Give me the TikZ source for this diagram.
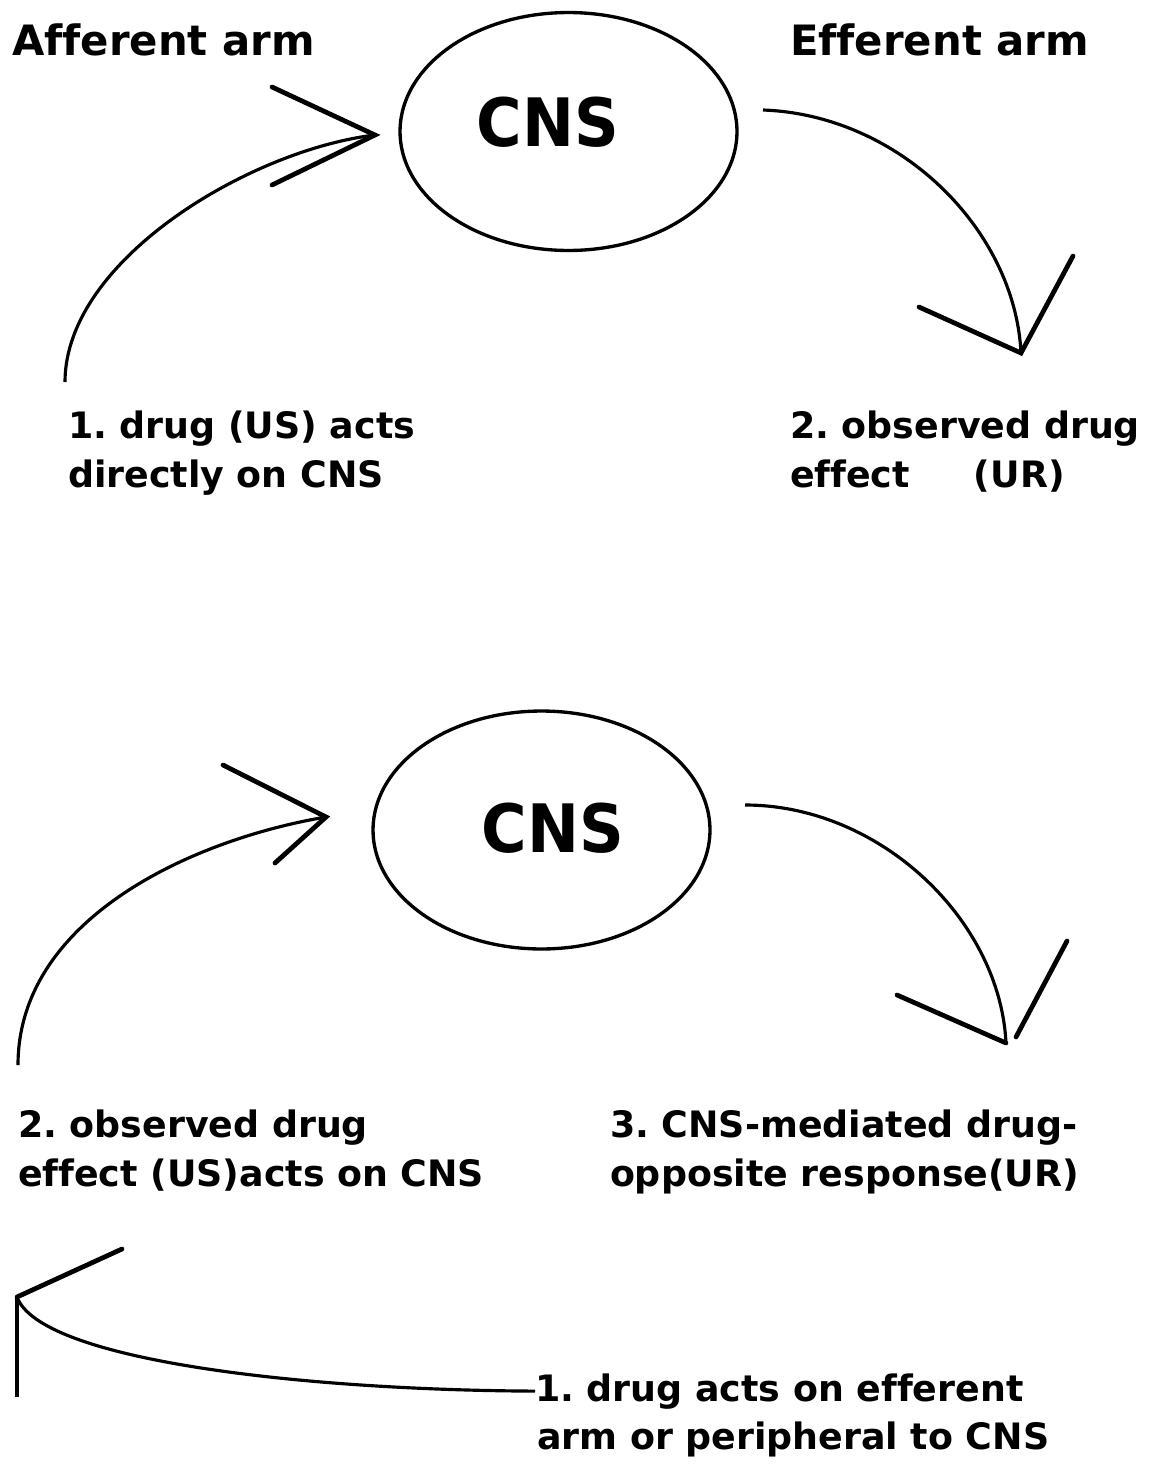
\documentclass[tikz,border=0pt]{standalone}
\usepackage{fontspec}
\setmainfont{DejaVu Sans}[Ligatures={NoCommon}]
\usetikzlibrary{shapes.geometric}
\begin{document}
\frenchspacing
\begin{tikzpicture}[x=0.02cm,y=-0.02cm,
  every node/.style={inner sep=0pt, outer sep=0pt},
  lbl/.style={anchor=base west, font=\fontsize{20.7}{25}\selectfont\bfseries},
  hdr/.style={anchor=base west, font=\fontsize{23.8}{28}\selectfont\bfseries},
  cnsbox/.style={draw, ellipse, line width=1.9pt, minimum width=6.74cm, minimum height=4.76cm},
  cnslbl/.style={font=\fontsize{38}{40}\selectfont\bfseries},
  arc/.style={line width=1.8pt},
  barb/.style={line width=2.7pt, line cap=round},
]
\useasboundingbox (0,0) rectangle (1151,1464);

% ---------- top diagram ----------
\node[hdr] (aff) at (12,55) {Afferent arm};
\node[hdr] (eff) at (790,55) {Efferent arm};
\node[cnsbox] (cns1) at (568.5,131.5) {};
\node[cnslbl] (cnst1) at (548,122) {\scalebox{0.93}[1]{CNS}};

\coordinate (a1s) at (65,382);
\coordinate (a1t) at (375,135);
\coordinate (a1u) at (272,87);
\coordinate (a1l) at (272,185);
\draw[arc] (a1s) .. controls (65,260) and (250,150) .. (a1t);
\draw[barb] (a1u) -- (a1t) -- (a1l);

\coordinate (e1s) at (763,110);
\coordinate (e1t) at (1021,353);
\coordinate (e1l) at (919,307);
\coordinate (e1r) at (1073,256);
\draw[arc] (e1s) .. controls (900,115) and (1015,230) .. (e1t);
\draw[barb] (e1l) -- (e1t) -- (e1r);

\node[lbl] (t1a) at (68,438) {1. drug (US) acts};
\node[lbl] (t1b) at (68,487) {directly on CNS};
\node[lbl] (t2a) at (790,438) {2. observed drug};
\node[lbl] (t2b) at (790,487) {effect\hspace*{1.28cm}(UR)};

% ---------- bottom diagram ----------
\node[cnsbox] (cns2) at (541.5,830) {};
\node[cnslbl] (cnst2) at (553,828) {\scalebox{0.93}[1]{CNS}};

\coordinate (a2s) at (18,1065);
\coordinate (a2t) at (326,817);
\coordinate (a2u) at (223,765);
\coordinate (a2l) at (275,863);
\draw[arc] (a2s) .. controls (18,920) and (190,840) .. (a2t);
\draw[barb] (a2u) -- (a2t) -- (a2l);

\coordinate (e2s) at (745,805);
\coordinate (e2t) at (1006,1043);
\coordinate (e2l) at (897,995);
\coordinate (e2r) at (1067,941);
\coordinate (e2rb) at (1016,1037);
\draw[arc] (e2s) .. controls (880,805) and (1000,920) .. (e2t);
\draw[barb] (e2l) -- (e2t);
\draw[barb] (e2r) -- (e2rb);

\node[lbl] (t3a) at (18,1137) {2. observed drug};
\node[lbl] (t3b) at (18,1186) {effect (US)acts on CNS};
\node[lbl] (t4a) at (610,1137) {3. CNS-mediated drug-};
\node[lbl] (t4b) at (610,1186) {opposite response(UR)};

\node[lbl] (t5a) at (535,1401) {1. drug acts on efferent};
\node[lbl] (t5b) at (537,1449) {arm or peripheral to CNS};

\coordinate (b0) at (17,1397);
\coordinate (bt) at (17,1297);
\coordinate (bb) at (122,1249);
\draw[arc] (b0) -- (bt);
\draw[barb] (bt) -- (bb);
\draw[arc] (bt) .. controls (40,1360) and (300,1390) .. (t5a.west);
\end{tikzpicture}
\end{document}
